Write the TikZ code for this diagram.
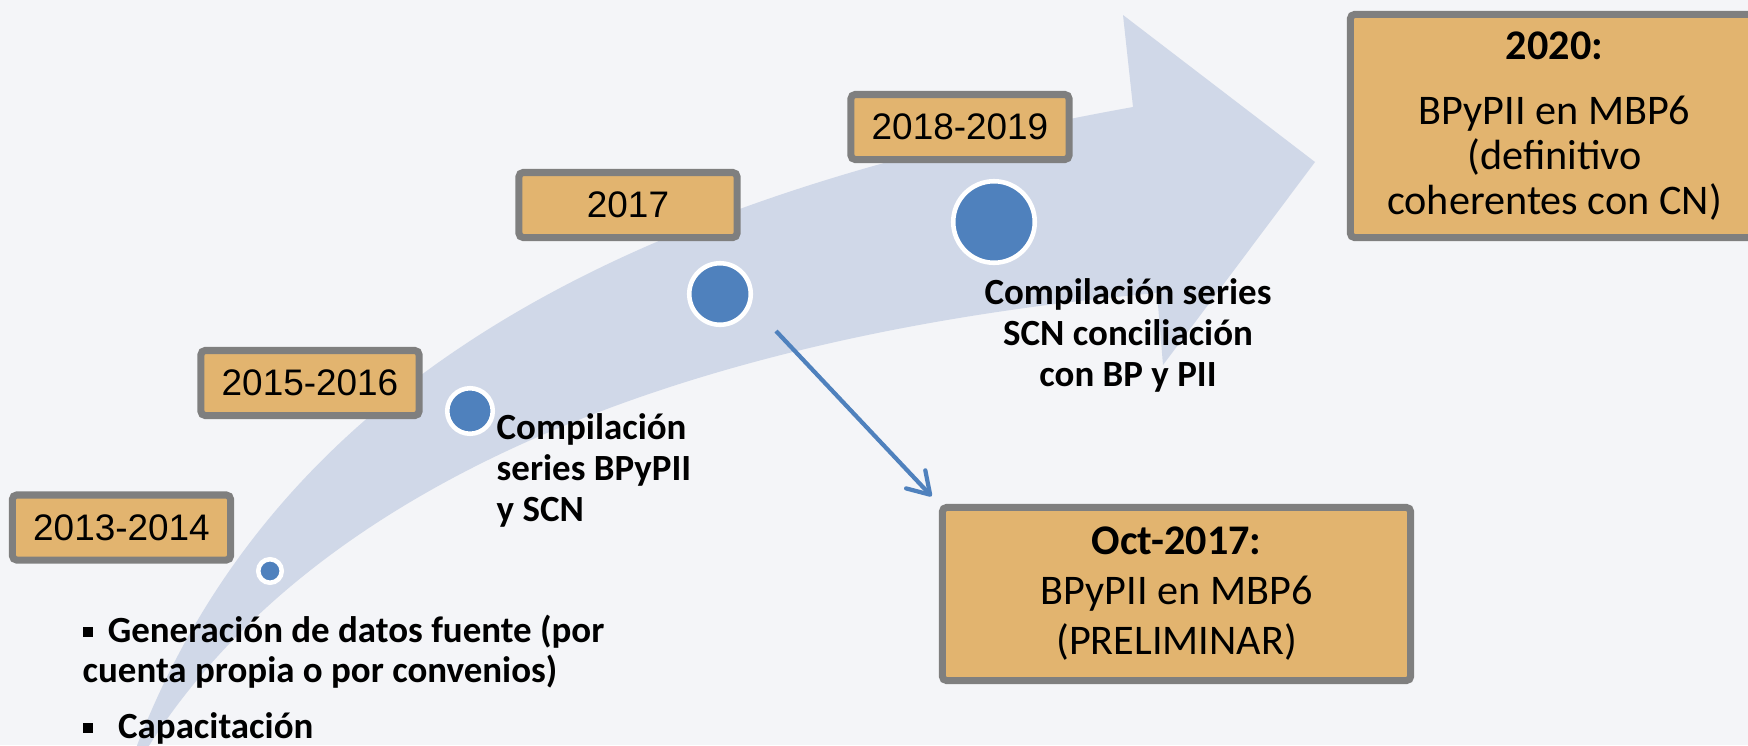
\documentclass[tikz,border=0pt]{standalone}
\usepackage{fontspec}
\setmainfont{Carlito}
\newfontfamily\arialfont{Liberation Sans}
\usepackage{tikz}
\usetikzlibrary{positioning, arrows.meta, backgrounds}

\definecolor{fondo}{HTML}{F4F5F8}
\definecolor{banda}{HTML}{D0D8E8}
\definecolor{punto}{HTML}{4F81BD}
\definecolor{caja}{HTML}{E2B46F}
\definecolor{borde}{HTML}{7F7F7F}

\begin{document}
\begin{tikzpicture}[
    x=0.01cm, y=-0.01cm,
    every node/.style={inner sep=0pt},
    year/.style={draw=borde, fill=caja, line width=2pt, rounded corners=1.2pt,
                 minimum width=21.8mm, minimum height=6.5mm,
                 font=\arialfont\fontsize{10.5}{12}\selectfont},
    hito/.style={draw=borde, fill=caja, line width=2pt, rounded corners=1.2pt,
                 align=center},
    dot/.style={circle, draw=white, fill=punto, line width=1.3pt},
    lbl/.style={font=\bfseries\fontsize{10.5}{11.6}\selectfont},
    link/.style={punto, line width=1.2pt, shorten >=3pt,
                 -{Straight Barb[round, length=6pt, width=7.5pt]}}
  ]
  \useasboundingbox (0,0) rectangle (1748,745);
  \fill[fondo] (0,0) rectangle (1748,745);

  % la flecha curva del fondo
  \begin{scope}
    \clip (0,0) rectangle (1748,745);
    \fill[banda] (118,800) .. controls (250,380) and (633,197) .. (1133,107)
      -- (1123,15) -- (1315,162) -- (1163,365) -- (1157,293)
      .. controls (657,338) and (270,500) .. (118,800) -- cycle;
  \end{scope}

  % puntos sobre la flecha
  \node[dot, minimum size=2.35mm] (c2013) at (270,571) {};
  \node[dot, minimum size=4.55mm] (c2015) at (470,411) {};
  \node[dot, minimum size=6.15mm] (c2017) at (720,294) {};
  \node[dot, minimum size=8.15mm] (c2018) at (994,222) {};

  % periodos
  \node[year] (y2013) at (121.5,527.5) {2013-2014};
  \node[year] (y2015) at (310,383) {2015-2016};
  \node[year] (y2017) at (628,205) {2017};
  \node[year] (y2018) at (960,127) {2018-2019};

  % cajas de resultados
  \node[hito, minimum width=40.8mm, minimum height=22.3mm,
        font=\fontsize{12}{12.8}\selectfont] (box2020) at (1554.5,126)
    {\textbf{2020:}\\[5.5pt] BPyPII en MBP6\\ (definitivo\\ coherentes con CN)};
  \node[hito, minimum width=46.8mm, minimum height=17.3mm,
        font=\fontsize{12}{14.2}\selectfont] (boxoct) at (1176.5,594)
    {\textbf{Oct-2017:}\\ BPyPII en MBP6\\ (PRELIMINAR)};

  % textos
  \node[lbl, align=left, anchor=north west] (lbl2015) at (496,413)
    {Compilación\\ series BPyPII\\ y SCN};
  \node[lbl, align=center, anchor=north] (lbl2018) at (1128,278)
    {Compilación series\\ SCN conciliación\\ con BP y PII};
  \node[lbl, align=left, anchor=north west] (bullet1) at (82,614)
    {\rule[0.14em]{0.28em}{0.28em}\hspace{0.4em}Generación de datos fuente (por\\ cuenta propia o por convenios)};
  \node[lbl, anchor=base west] (bullet2) at (82,738)
    {\rule[0.14em]{0.28em}{0.28em}\hspace{0.68em}Capacitación};

  \coordinate (arrstart) at (776,331);
  \draw[link] (arrstart) -- (boxoct.north west);
\end{tikzpicture}
\end{document}
